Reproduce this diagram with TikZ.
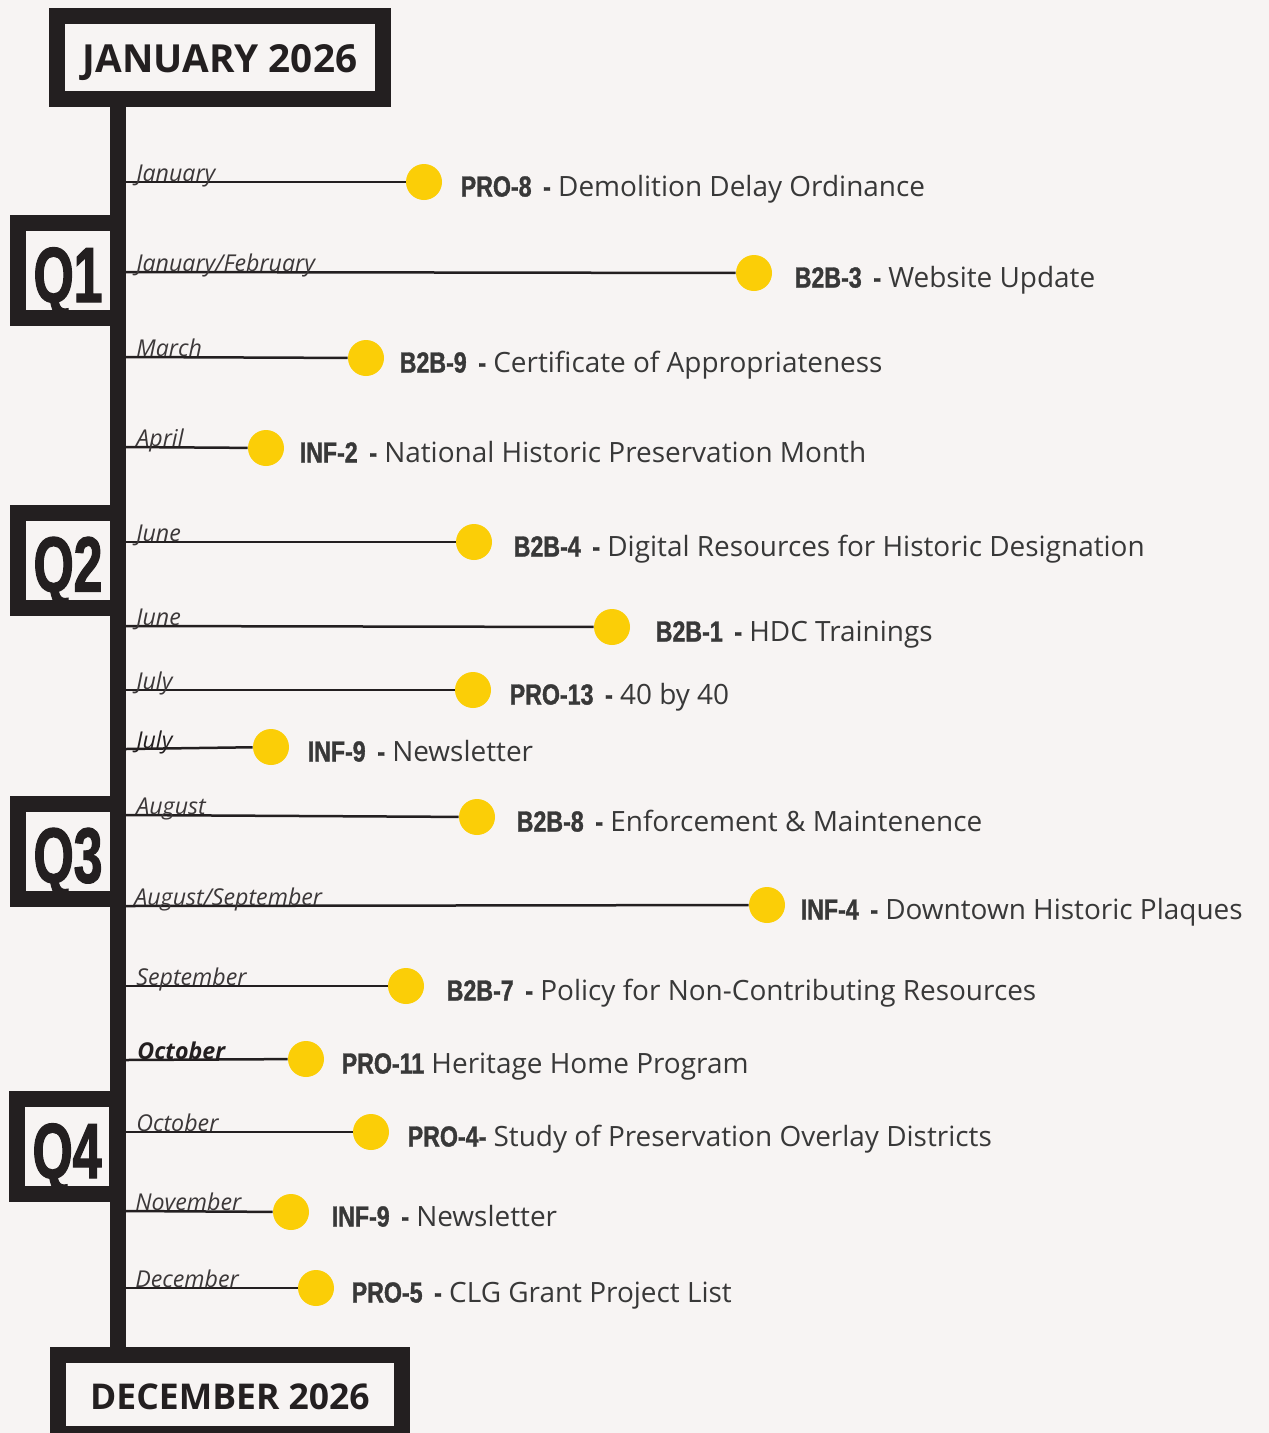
\documentclass[tikz,border=0pt]{standalone}
\usepackage{fontspec}
\setmainfont{Open Sans}
\newfontfamily\codefont[FakeStretch=0.8, FakeBold=1.2, WordSpace=1.8]{Liberation Sans}
\newfontfamily\quarterfont[FakeStretch=0.66, FakeBold=1.5]{Liberation Sans}
\usepackage{xcolor}
\usepackage{tikz}
\usetikzlibrary{
    positioning,
    calc
}
\definecolor{paper}{HTML}{F7F4F3}
\definecolor{ink}{HTML}{231F20}
\definecolor{marker}{HTML}{FBCE07}
\definecolor{softink}{HTML}{3C3839}
\newcommand{\itemcode}[1]{{\codefont\bfseries\fontsize{16.5}{18}\selectfont #1}}
\tikzset{
    yearbox/.style={
        draw=ink,
        line width=3.2mm,
        fill=paper,
        inner sep=0pt,
        text height=6.1mm,
        text depth=0pt,
        text=ink
    }
}
\tikzset{
    quarter/.style={
        draw=ink,
        line width=3.2mm,
        fill=paper,
        inner sep=0pt,
        minimum width=20mm,
        minimum height=19mm,
        text height=12.6mm,
        text depth=0pt,
        text=ink,
        font=\quarterfont\bfseries\fontsize{44.5}{44.5}\selectfont
    }
}
\tikzset{
    spine/.style={
        draw=ink,
        line width=3.2mm
    }
}
\tikzset{
    stem/.style={
        draw=ink,
        line width=0.5mm
    }
}
\tikzset{
    marker/.style={
        circle,
        fill=marker,
        minimum size=7.2mm,
        inner sep=0pt
    }
}
\tikzset{
    month/.style={
        inner sep=0pt,
        anchor=base west,
        text=softink,
        font=\itshape\fontsize{13.2}{15}\selectfont
    }
}
\tikzset{
    task/.style={
        inner sep=0pt,
        text height=4.2mm,
        text depth=1.4mm,
        yshift=-1.5mm,
        text=black!78,
        font=\fontsize{15.9}{18}\selectfont
    }
}

\begin{document}
\begin{tikzpicture}[
    x=0.2mm,
    y=-0.2mm
]

\useasboundingbox (0,0) rectangle (1269,1433);
\clip (0,0) rectangle (1269,1433);
\fill[paper] (0,0) rectangle (1269,1433);

% ------------------------------------------------------------
% Spine and year boxes
% ------------------------------------------------------------

\coordinate (spineTop) at (118,100);
\coordinate (spineBot) at (118,1356);

\draw[spine] (spineTop) -- (spineBot);

\node[yearbox, minimum width=65.2mm, minimum height=16.6mm,
    font=\bfseries\fontsize{22}{24}\selectfont] (header)
    at (220,57.5) {JANUARY 2026};

\node[yearbox, minimum width=68.8mm, minimum height=15.8mm,
    font=\bfseries\fontsize{20.2}{24}\selectfont] (footer)
    at (230,1394.5) {DECEMBER 2026};

% ------------------------------------------------------------
% Quarters
% ------------------------------------------------------------

\node[quarter] (q1) at (68,270.5) {Q1};
\node[quarter] (q2) at (68,560) {Q2};
\node[quarter] (q3) at (68,851) {Q3};
\node[quarter] (q4) at (67,1146.5) {Q4};

% ------------------------------------------------------------
% Q1 items
% ------------------------------------------------------------

\coordinate (pro8root) at (126,182);
\node[marker] (pro8) at (424,182) {};
\draw[stem] (pro8root) -- (pro8);
\node[month] (pro8month) at ($(pro8root)+(10,-1)$) {January};
\node[task, right=3.6mm of pro8] (pro8text)
    {\itemcode{PRO-8 -} Demolition Delay Ordinance};

\coordinate (b2b3root) at (126,272);
\node[marker] (b2b3) at (754,273) {};
\draw[stem] (b2b3root) -- (b2b3);
\node[month] (b2b3month) at ($(b2b3root)+(10,-1)$) {January/February};
\node[task, right=4.4mm of b2b3] (b2b3text)
    {\itemcode{B2B-3 -} Website Update};

\coordinate (b2b9root) at (126,357);
\node[marker] (b2b9) at (366,358) {};
\draw[stem] (b2b9root) -- (b2b9);
\node[month] (b2b9month) at ($(b2b9root)+(10,-1)$) {March};
\node[task, right=3mm of b2b9] (b2b9text)
    {\itemcode{B2B-9 -} Certificate of Appropriateness};

\coordinate (inf2root) at (126,447);
\node[marker] (inf2) at (266,448) {};
\draw[stem] (inf2root) -- (inf2);
\node[month] (inf2month) at ($(inf2root)+(10,-1)$) {April};
\node[task, right=3mm of inf2] (inf2text)
    {\itemcode{INF-2 -} National Historic Preservation Month};

% ------------------------------------------------------------
% Q2 items
% ------------------------------------------------------------

\coordinate (b2b4root) at (126,542);
\node[marker] (b2b4) at (474,542) {};
\draw[stem] (b2b4root) -- (b2b4);
\node[month] (b2b4month) at ($(b2b4root)+(10,-1)$) {June};
\node[task, right=4.2mm of b2b4] (b2b4text)
    {\itemcode{B2B-4 -} Digital Resources for Historic Designation};

\coordinate (b2b1root) at (126,626);
\node[marker] (b2b1) at (612,627) {};
\draw[stem] (b2b1root) -- (b2b1);
\node[month] (b2b1month) at ($(b2b1root)+(10,-1)$) {June};
\node[task, right=5mm of b2b1] (b2b1text)
    {\itemcode{B2B-1 -} HDC Trainings};

\coordinate (pro13root) at (126,690);
\node[marker] (pro13) at (473,690) {};
\draw[stem] (pro13root) -- (pro13);
\node[month] (pro13month) at ($(pro13root)+(10,-1)$) {July};
\node[task, right=3.6mm of pro13] (pro13text)
    {\itemcode{PRO-13 -} 40 by 40};

\coordinate (inf9julroot) at (126,749);
\node[marker] (inf9jul) at (271,747) {};
\draw[stem] (inf9julroot) -- (inf9jul);
\node[month, text=ink] (inf9julmonth) at ($(inf9julroot)+(10,-1)$) {July};
\node[task, right=3.6mm of inf9jul] (inf9jultext)
    {\itemcode{INF-9 -} Newsletter};

% ------------------------------------------------------------
% Q3 items
% ------------------------------------------------------------

\coordinate (b2b8root) at (126,815);
\node[marker] (b2b8) at (477,817) {};
\draw[stem] (b2b8root) -- (b2b8);
\node[month] (b2b8month) at ($(b2b8root)+(10,-1)$) {August};
\node[task, right=4.2mm of b2b8] (b2b8text)
    {\itemcode{B2B-8 -} Enforcement \& Maintenence};

\coordinate (inf4root) at (126,906);
\node[marker] (inf4) at (767,905) {};
\draw[stem] (inf4root) -- (inf4);
\node[month] (inf4month) at ($(inf4root)+(8,-1)$) {August/September};
\node[task, right=3mm of inf4] (inf4text)
    {\itemcode{INF-4 -} Downtown Historic Plaques};

\coordinate (b2b7root) at (126,986);
\node[marker] (b2b7) at (406,986) {};
\draw[stem] (b2b7root) -- (b2b7);
\node[month] (b2b7month) at ($(b2b7root)+(10,-1)$) {September};
\node[task, right=4.4mm of b2b7] (b2b7text)
    {\itemcode{B2B-7 -} Policy for Non-Contributing Resources};

\coordinate (pro11root) at (126,1060);
\node[marker] (pro11) at (306,1059) {};
\draw[stem] (pro11root) -- (pro11);
\node[month, text=ink, font=\bfseries\itshape\fontsize{13.2}{15}\selectfont] (pro11month)
    at ($(pro11root)+(11,-1)$) {October};
\node[task, right=3.4mm of pro11] (pro11text)
    {\itemcode{PRO-11} Heritage Home Program};

% ------------------------------------------------------------
% Q4 items
% ------------------------------------------------------------

\coordinate (pro4root) at (126,1132);
\node[marker] (pro4) at (371,1132) {};
\draw[stem] (pro4root) -- (pro4);
\node[month] (pro4month) at ($(pro4root)+(10,-1)$) {October};
\node[task, right=3.6mm of pro4] (pro4text)
    {\itemcode{PRO-4-} Study of Preservation Overlay Districts};

\coordinate (inf9novroot) at (126,1211);
\node[marker] (inf9nov) at (291,1212) {};
\draw[stem] (inf9novroot) -- (inf9nov);
\node[month] (inf9novmonth) at ($(inf9novroot)+(9,-1)$) {November};
\node[task, right=4.4mm of inf9nov] (inf9novtext)
    {\itemcode{INF-9 -} Newsletter};

\coordinate (pro5root) at (126,1288);
\node[marker] (pro5) at (316,1288) {};
\draw[stem] (pro5root) -- (pro5);
\node[month] (pro5month) at ($(pro5root)+(9,-1)$) {December};
\node[task, right=3.4mm of pro5] (pro5text)
    {\itemcode{PRO-5 -} CLG Grant Project List};

\end{tikzpicture}
\end{document}
